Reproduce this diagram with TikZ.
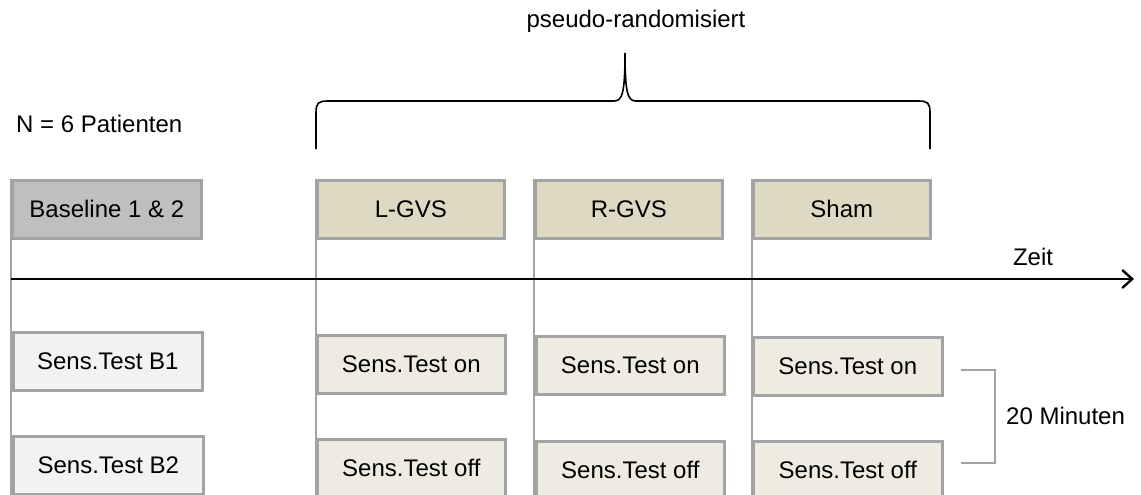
\documentclass[tikz,border=0pt]{standalone}
\usepackage{fontspec}
\setmainfont{Liberation Sans}
\usetikzlibrary{arrows.meta,shadows}
\definecolor{framegray}{HTML}{A3A3A3}
\definecolor{basefill}{HTML}{BFBFBF}
\definecolor{condfill}{HTML}{DDD9C3}
\definecolor{testfill}{HTML}{EEECE1}
\definecolor{basetest}{HTML}{F2F2F2}
\tikzset{
  box/.style={draw=framegray, line width=2.6pt, anchor=north west,
    minimum width=188pt, minimum height=58pt, inner sep=0pt,
    font=\fontsize{24}{28}\selectfont,
    drop shadow={shadow xshift=1pt, shadow yshift=-2pt, opacity=.18, fill=black}},
  basebox/.style={box, fill=basefill},
  condbox/.style={box, fill=condfill},
  testbox/.style={box, fill=testfill},
  btestbox/.style={box, fill=basetest},
  timeline/.style={draw=framegray, line width=2.2pt},
  label/.style={font=\fontsize{24}{28}\selectfont, inner sep=0pt},
  bracket/.style={draw=black, line width=1.6pt},
  axis/.style={draw=black, line width=2.8pt, -{Straight Barb[length=10pt,width=18pt,line width=2.4pt]}}
}
\begin{document}
\begin{tikzpicture}[x=1pt,y=-1pt]
\useasboundingbox (0,0) rectangle (1141,495);
\clip (0,0) rectangle (1141,495);

% lower ends of the phase lines
\coordinate (l0) at (11,496);
\coordinate (l1) at (316,496);
\coordinate (l2) at (534,496);
\coordinate (l3) at (752,496);

% header boxes
\node[basebox, minimum width=189pt] (base) at (11,179) {Baseline 1 \& 2};
\node[condbox, minimum width=187pt] (lgvs) at (316,179) {L-GVS};
\node[condbox, minimum width=187pt] (rgvs) at (534,179) {R-GVS};
\node[condbox, minimum width=177pt] (sham) at (752,179) {Sham};

\draw[timeline] (base.north west) -- (l0);
\draw[timeline] (lgvs.north west) -- (l1);
\draw[timeline] (rgvs.north west) -- (l2);
\draw[timeline] (sham.north west) -- (l3);

% time axis
\coordinate (t0) at (11,279);
\coordinate (t1) at (1134,279);
\draw[axis] (t0) -- (t1);
\node[label, anchor=south] (zeit) at (1033,266) {Zeit};

% measurement boxes
\node[btestbox, minimum width=189pt] (b1) at (12,331) {Sens.Test B1};
\node[btestbox, minimum width=190pt] (b2) at (12,435) {Sens.Test B2};
\node[testbox] (lon) at (316,334) {Sens.Test on};
\node[testbox] (loff) at (316,438) {Sens.Test off};
\node[testbox] (ron) at (535,335) {Sens.Test on};
\node[testbox] (roff) at (535,440) {Sens.Test off};
\node[testbox, minimum width=189pt] (son) at (752,336) {Sens.Test on};
\node[testbox, minimum width=189pt] (soff) at (752,440) {Sens.Test off};

% 20 minute bracket
\coordinate (m0) at (961,370);
\coordinate (m1) at (961,463);
\draw[draw=framegray, line width=2.2pt] (m0) -- (995,370) -- (995,463) -- (m1);
\node[label, anchor=west] (min) at (1006,416) {20 Minuten};

% labels
\node[label, anchor=west] (n) at (16,124) {N = 6 Patienten};
\node[label] (pseudo) at (636,21) {pseudo-randomisiert};

% curly brace over the three conditions
\coordinate (c0) at (316,149);
\coordinate (c1) at (930,149);
\coordinate (ctip) at (625,53);
\draw[bracket] (c0) -- (316,113) .. controls (316,103) and (318,101) .. (328,101)
  -- (614,101) .. controls (622,101) and (625,94) .. (ctip)
  .. controls (625,94) and (628,101) .. (636,101)
  -- (918,101) .. controls (928,101) and (930,103) .. (930,113) -- (c1);
\end{tikzpicture}
\end{document}
